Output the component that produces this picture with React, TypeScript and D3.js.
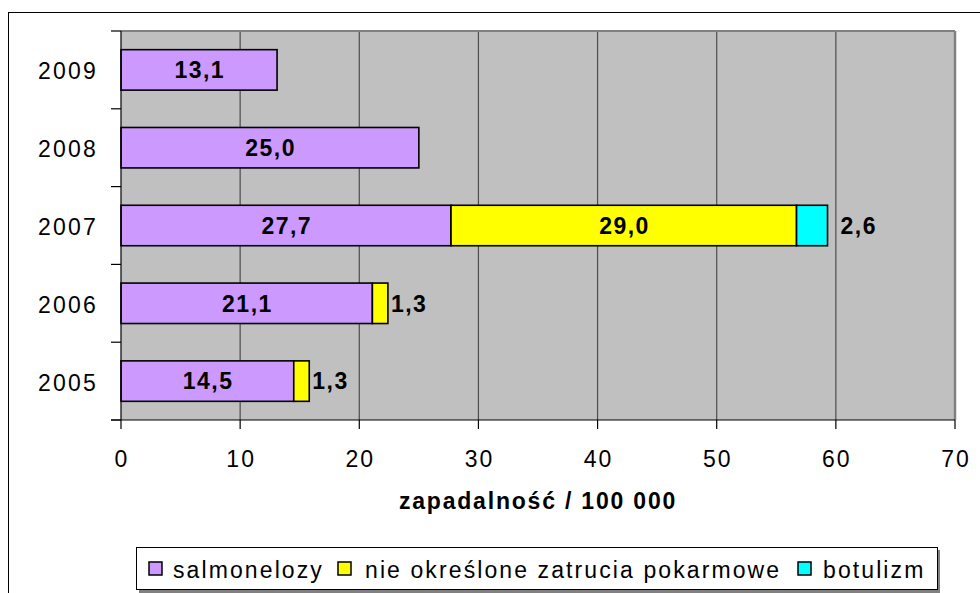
import React from 'react';
import * as d3 from 'd3';

const years = ['2009', '2008', '2007', '2006', '2005'];
const salmonelozy = [13.1, 25.0, 27.7, 21.1, 14.5];
const nieOkreslone = [0, 0, 29.0, 1.3, 1.3];
const botulizm = [0, 0, 2.6, 0, 0];
const seriesNames = ['salmonelozy', 'nie określone zatrucia pokarmowe', 'botulizm'];
const xTicks = [0, 10, 20, 30, 40, 50, 60, 70];
const axisTitle = 'zapadalność / 100 000';

const W = 980;
const H = 593;
const colors = ['#cc99ff', '#ffff00', '#00ffff'];
const outsideGap = [3, 3, 13];
const FONT = 'Arial, "Liberation Sans", sans-serif';

export default function App() {
  const m = { left: 121, right: 955, top: 31, bottom: 420 };
  const x = d3.scaleLinear().domain([0, 70]).range([m.left, m.right]);
  const y = d3.scaleBand<string>().domain(years).range([m.top, m.bottom]).paddingInner(0.48).paddingOuter(0.24);
  const step = y.step();

  const rows = years.map((yr, i) => ({ year: yr, s0: salmonelozy[i], s1: nieOkreslone[i], s2: botulizm[i] }));
  const stack = d3.stack<any>().keys(['s0', 's1', 's2']);
  const series = stack(rows);
  const fmt = (v: number) => d3.format('.1f')(v).replace('.', ',');

  const legendItems = [
    { swatch: 149, text: 173 },
    { swatch: 338, text: 365 },
    { swatch: 798, text: 823 },
  ];

  return (
    <svg width={W} height={H} style={{ position: 'absolute', left: 0, top: 0 }} fontFamily={FONT}>
      <rect x={0} y={0} width={W} height={H} fill="#fff" />
      <rect x={8.5} y={12.5} width={1200} height={1200} fill="none" stroke="#000" strokeWidth={1} />
      <rect x={m.left} y={m.top} width={m.right - m.left} height={m.bottom - m.top} fill="#c0c0c0" />
      {xTicks.filter(t => t > 0 && t < 70).map(t => (
        <line key={'g' + t} x1={x(t)} x2={x(t)} y1={m.top} y2={m.bottom} stroke="#4d4d4d" strokeWidth={1.2} />
      ))}
      <line x1={m.left} x2={m.right} y1={m.top} y2={m.top} stroke="#808080" strokeWidth={2} />
      <line x1={m.right} x2={m.right} y1={m.top} y2={m.bottom} stroke="#808080" strokeWidth={2.5} />
      {series.map((s, si) =>
        s.map((d, i) => {
          const w = x(d[1]) - x(d[0]);
          if (w <= 0) return null;
          return (
            <rect key={si + '-' + i} x={x(d[0])} y={y(years[i])} width={w} height={y.bandwidth()}
              fill={colors[si]} stroke="#000" strokeWidth={1.6} />
          );
        })
      )}
      {series.map((s, si) =>
        s.map((d, i) => {
          const v = d[1] - d[0];
          if (v <= 0) return null;
          const w = x(d[1]) - x(d[0]);
          const cy = (y(years[i]) as number) + y.bandwidth() / 2 + 8.3;
          if (w > 60) {
            return (
              <text key={'l' + si + i} x={(x(d[0]) + x(d[1])) / 2 + 0.75} y={cy} textAnchor="middle"
                fontWeight="bold" fontSize={23} letterSpacing={1.5}>{fmt(v)}</text>
            );
          }
          return (
            <text key={'l' + si + i} x={x(d[1]) + outsideGap[si]} y={cy} textAnchor="start"
              fontWeight="bold" fontSize={23} letterSpacing={1.5}>{fmt(v)}</text>
          );
        })
      )}
      <line x1={m.left} x2={m.left} y1={m.top} y2={m.bottom} stroke="#000" strokeWidth={1.2} />
      <line x1={m.left - 10} x2={m.right} y1={m.bottom} y2={m.bottom} stroke="#000" strokeWidth={1.2} />
      {d3.range(years.length + 1).map(k => (
        <line key={'yt' + k} x1={m.left - 10} x2={m.left} y1={m.top + k * step} y2={m.top + k * step}
          stroke="#000" strokeWidth={1.2} />
      ))}
      {xTicks.map(t => (
        <g key={'xt' + t}>
          <line x1={x(t)} x2={x(t)} y1={m.bottom} y2={m.bottom + 9} stroke="#000" strokeWidth={1.2} />
          <text x={x(t) + 1} y={467} textAnchor="middle" fontSize={23} letterSpacing={2}>{t}</text>
        </g>
      ))}
      {years.map(yr => (
        <text key={'yl' + yr} x={98} y={(y(yr) as number) + y.bandwidth() / 2 + 9.5} textAnchor="end"
          fontSize={23} letterSpacing={2.2}>{yr}</text>
      ))}
      <text x={(m.left + m.right) / 2} y={509} textAnchor="middle" fontWeight="bold" fontSize={23}
        letterSpacing={1.8}>{axisTitle}</text>
      <rect x={139} y={550} width={801} height={43} fill="#808080" />
      <rect x={136.5} y={547.5} width={801} height={42} fill="#fff" stroke="#000" strokeWidth={1} />
      {seriesNames.map((n, i) => (
        <g key={'lg' + i}>
          <rect x={legendItems[i].swatch} y={562} width={13} height={13} fill={colors[i]} stroke="#000" strokeWidth={1.5} />
          <text x={legendItems[i].text} y={578} fontSize={23} letterSpacing={2.1}>{n}</text>
        </g>
      ))}
    </svg>
  );
}
